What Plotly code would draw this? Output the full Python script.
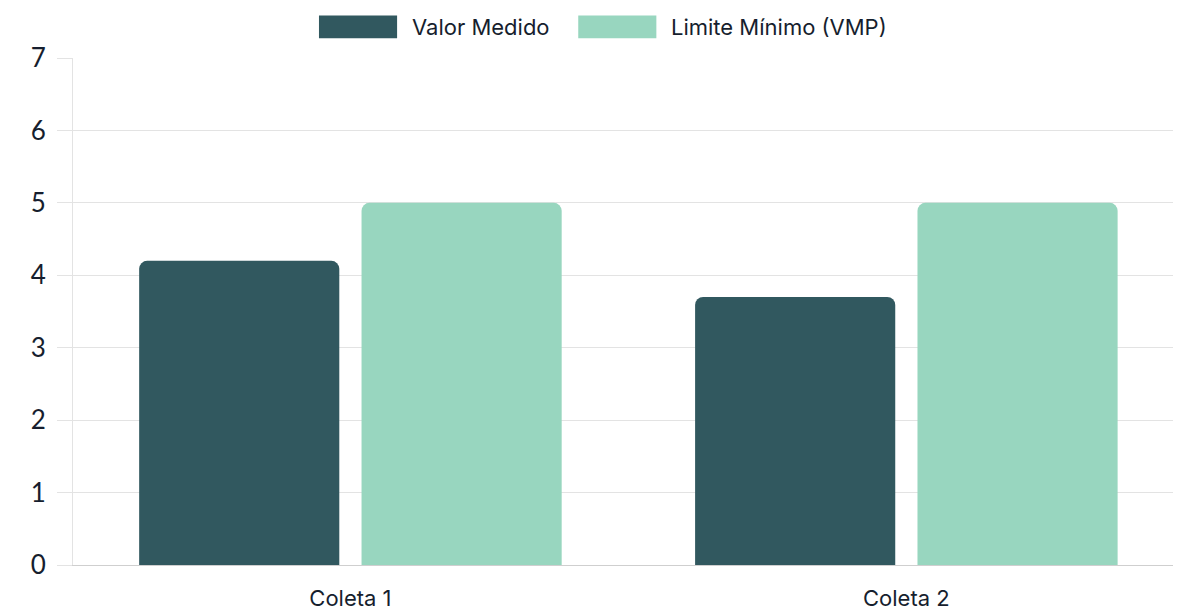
import plotly.graph_objects as go

categories = ['Coleta 1', 'Coleta 2']
valor_medido = [4.2, 3.7]
limite_minimo = [5, 5]

series_names = ['Valor Medido', 'Limite Mínimo (VMP)']
series_colors = ['#31585f', '#98d6bf']
series_values = [valor_medido, limite_minimo]

text_color = '#161e2e'
grid_color = '#e3e3e3'

fig = go.Figure()

for name, color, values in zip(series_names, series_colors, series_values):
    fig.add_trace(go.Bar(
        x=categories, y=values, name=name,
        marker=dict(color=color, cornerradius=8, line=dict(width=0)),
        showlegend=False
    ))

# custom legend with wide swatches (plotly's own swatches are tiny)
swatch_x = [0.222, 0.456]
for name, color, x0 in zip(series_names, series_colors, swatch_x):
    fig.add_shape(type='rect', xref='paper', yref='paper',
                  x0=x0, x1=x0 + 0.0705, y0=1.039, y1=1.084,
                  fillcolor=color, line=dict(width=0))
    fig.add_annotation(text=name, xref='paper', yref='paper',
                       x=x0 + 0.082, y=1.061, xanchor='left', yanchor='middle',
                       showarrow=False, font=dict(size=22, color=text_color, family='Inter'))

# page body has an 8px margin, so the figure is sized/offset to compensate
fig.update_layout(
    width=1173, height=606,
    paper_bgcolor='white', plot_bgcolor='white',
    barmode='group', bargap=0.2, bargroupgap=0.1,
    margin=dict(l=65, r=0, t=50, b=49),
    font=dict(family='Inter', color=text_color),
)

fig.update_yaxes(
    range=[0, 7], dtick=1, showgrid=True, gridcolor=grid_color, gridwidth=1,
    ticks='outside', ticklen=15, tickcolor=grid_color,
    showline=True, linecolor=grid_color, zeroline=False,
    tickfont=dict(size=26, family='Lato', color=text_color), ticklabelstandoff=6
)
fig.update_xaxes(
    range=[-0.499, 1.494],
    showline=True, linecolor='#cfcfcf', linewidth=1, showgrid=False,
    tickfont=dict(size=22, family='Inter', color=text_color), ticklabelstandoff=14
)

fig.write_html('out.html')
